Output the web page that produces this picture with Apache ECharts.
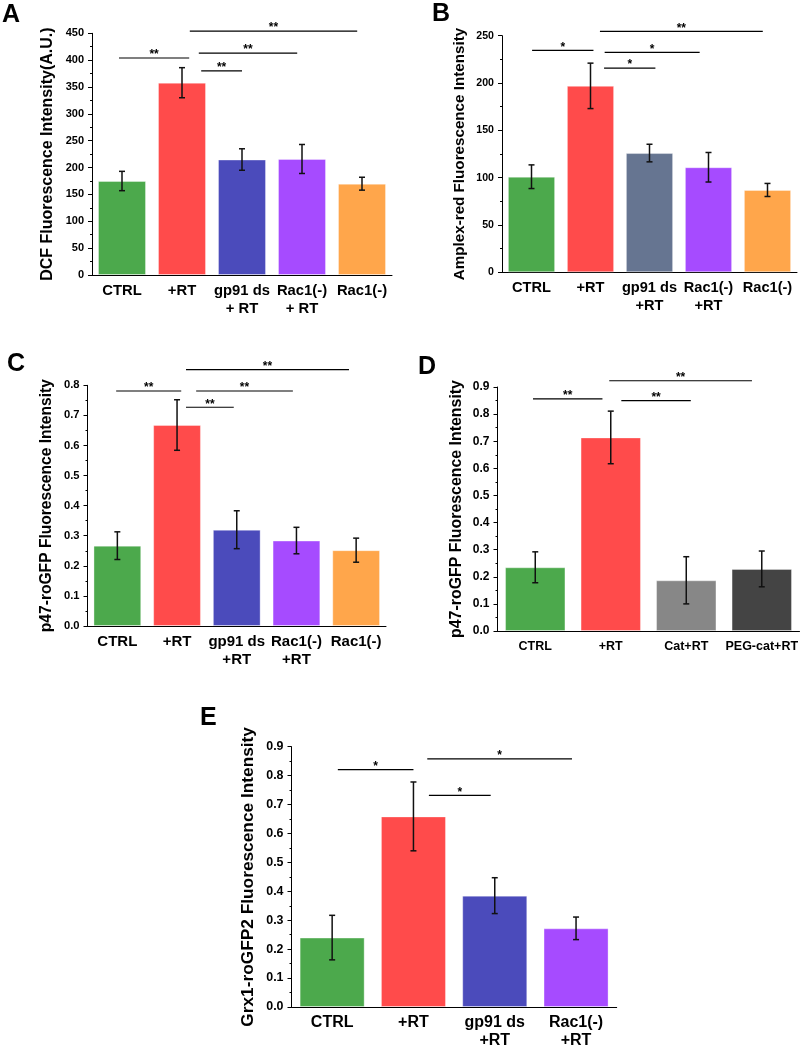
<!DOCTYPE html>
<html>
<head>
<meta charset="utf-8">
<script src="https://cdn.jsdelivr.net/npm/echarts@6/dist/echarts.min.js"></script>
<style>html,body{margin:0;padding:0;background:#fff}#c{width:801px;height:1050px}</style>
</head>
<body>
<div id="c"></div>
<script>
// ---------- DATA ----------
const catsA = ['CTRL', '+RT', 'gp91 ds\n+ RT', 'Rac1(-)\n+ RT', 'Rac1(-)'];
const valsA = [175, 358, 215, 216, 170];
const errA  = [18, 28, 20, 27, 12];
const sigA  = [[-0.05, 1.12, 404, '**'], [1.13, 3.92, 454, '**'], [1.28, 2.92, 413, '**'], [1.32, 2.0, 380, '**']];

const catsB = ['CTRL', '+RT', 'gp91 ds\n+RT', 'Rac1(-)\n+RT', 'Rac1(-)'];
const valsB = [101, 197, 126, 111, 87];
const errB  = [12.5, 24, 9.3, 15.6, 6.9];
const sigB  = [[0.01, 1.05, 234.5, '*'], [1.16, 3.92, 254.6, '**'], [1.24, 2.85, 232.4, '*'], [1.23, 2.1, 215.8, '*']];

const catsC = ['CTRL', '+RT', 'gp91 ds\n+RT', 'Rac1(-)\n+RT', 'Rac1(-)'];
const valsC = [0.267, 0.668, 0.320, 0.284, 0.252];
const errC  = [0.046, 0.084, 0.063, 0.044, 0.040];
const sigC  = [[-0.02, 1.07, 0.781, '**'], [1.15, 3.88, 0.852, '**'], [1.32, 2.94, 0.781, '**'], [1.15, 1.95, 0.727, '**']];

const catsD = ['CTRL', '+RT', 'Cat+RT', 'PEG-cat+RT'];
const valsD = [0.235, 0.714, 0.187, 0.229];
const errD  = [0.057, 0.097, 0.087, 0.066];
const sigD  = [[-0.03, 0.89, 0.856, '**'], [0.98, 2.87, 0.923, '**'], [1.14, 2.06, 0.850, '**']];

const catsE = ['CTRL', '+RT', 'gp91 ds\n+RT', 'Rac1(-)\n+RT'];
const valsE = [0.240, 0.659, 0.385, 0.272];
const errE  = [0.077, 0.119, 0.062, 0.039];
const sigE  = [[0.07, 1.0, 0.821, '*'], [1.17, 2.95, 0.858, '*'], [1.19, 1.95, 0.732, '*']];

const yTitles = ['DCF Fluorescence Intensity(A.U.)', 'Amplex-red Fluorescence Intensity',
  'p47-roGFP Fluorescence Intensity', 'p47-roGFP Fluorescence Intensity',
  'Grx1-roGFP2 Fluorescence Intensity'];
const yMax = [450, 250, 0.8, 0.9, 0.9];
const yStep = [50, 50, 0.1, 0.1, 0.1];
const letters = ['A', 'B', 'C', 'D', 'E'];

// ---------- STYLE ----------
const GREEN = '#4CA94C', RED = '#FF4B4B', BLUE = '#4B4BBB', PURPLE = '#A64BFF', ORANGE = '#FFA64B',
      SLATE = '#667591', GRAY = '#878787', DARK = '#444444';
const colors = [
  [GREEN, RED, BLUE, PURPLE, ORANGE],
  [GREEN, RED, SLATE, PURPLE, ORANGE],
  [GREEN, RED, BLUE, PURPLE, ORANGE],
  [GREEN, RED, GRAY, DARK],
  [GREEN, RED, BLUE, PURPLE]
];
const FONT = '"Liberation Sans", Arial, Helvetica, sans-serif';
const grids = [
  {left: 92, top: 33.3, width: 300, height: 241.7},
  {left: 502, top: 35.7, width: 295, height: 236.6},
  {left: 87.5, top: 385.3, width: 298.5, height: 240.7},
  {left: 497.5, top: 387, width: 302.5, height: 244},
  {left: 291.5, top: 746.7, width: 325.2, height: 262.6}
];
const nameGaps = [36, 34.5, 32.5, 32.5, 35];
const nameSizes = [16, 15.2, 15.6, 15.9, 17.3];
const xLabelSizes = [14.8, 14.6, 15, 12.5, 16];
const yLabelSizes = [11, 10.6, 11.2, 12, 12.4];
const letterPos = [[2, 3], [432, 2], [7, 352], [418, 355], [200, 706]];

const panels = [
  {cats: catsA, vals: valsA, err: errA, sig: sigA},
  {cats: catsB, vals: valsB, err: errB, sig: sigB},
  {cats: catsC, vals: valsC, err: errC, sig: sigC},
  {cats: catsD, vals: valsD, err: errD, sig: sigD},
  {cats: catsE, vals: valsE, err: errE, sig: sigE}
];

const xAxes = [], yAxes = [], series = [], titles = [];
panels.forEach((p, i) => {
  xAxes.push({
    type: 'category', gridIndex: i, data: p.cats,
    axisLine: {onZero: false, lineStyle: {color: '#000', width: 1}},
    axisTick: {alignWithLabel: true, length: 4, lineStyle: {color: '#000'}},
    axisLabel: {interval: 0, color: '#000', fontFamily: FONT, fontWeight: 'bold',
      fontSize: xLabelSizes[i], lineHeight: 18, margin: 7}
  });
  yAxes.push({
    type: 'value', gridIndex: i, min: 0, max: yMax[i], interval: yStep[i],
    name: yTitles[i], nameLocation: 'middle', nameRotate: 90, nameGap: nameGaps[i],
    nameTextStyle: {color: '#000', fontFamily: FONT, fontWeight: 'bold', fontSize: nameSizes[i]},
    axisLine: {show: true, onZero: false, lineStyle: {color: '#000', width: 1}},
    axisTick: {show: true, length: 4, lineStyle: {color: '#000'}},
    minorTick: {show: true, splitNumber: 2, length: 2, lineStyle: {color: '#000'}},
    splitLine: {show: false},
    axisLabel: {color: '#000', fontFamily: FONT, fontWeight: 'bold', fontSize: yLabelSizes[i], margin: 8,
      formatter: v => yStep[i] < 1 ? v.toFixed(1) : String(v)}
  });
  titles.push({text: letters[i], left: letterPos[i][0], top: letterPos[i][1], padding: 0,
    textStyle: {fontFamily: FONT, fontWeight: 'bold', fontSize: 25, color: '#000'}});
});
// hidden value x-axes for significance brackets
panels.forEach((p, i) => {
  xAxes.push({type: 'value', gridIndex: i, show: false, min: -0.5, max: p.cats.length - 0.5,
    axisLine: {onZero: false}});
});

panels.forEach((p, i) => {
  series.push({
    type: 'bar', xAxisIndex: i, yAxisIndex: i, barWidth: '80%', z: 2,
    data: p.vals.map((v, k) => ({value: v, itemStyle: {color: colors[i][k],
      borderColor: 'rgba(255,255,255,0.35)', borderWidth: 1}})),
    silent: true, animation: false
  });
  series.push({
    type: 'custom', xAxisIndex: i, yAxisIndex: i, animation: false, silent: true, z: 10,
    data: p.vals.map((v, k) => [k, v, p.err[k]]),
    encode: {x: 0, y: 1},
    renderItem: (params, api) => {
      const k = api.value(0), v = api.value(1), e = api.value(2);
      const top = api.coord([k, v + e]), bot = api.coord([k, v - e]);
      const cw = 3, st = {stroke: '#111', lineWidth: 1.5};
      return {type: 'group', children: [
        {type: 'line', shape: {x1: top[0], y1: top[1], x2: bot[0], y2: bot[1]}, style: st},
        {type: 'line', shape: {x1: top[0] - cw, y1: top[1], x2: top[0] + cw, y2: top[1]}, style: st},
        {type: 'line', shape: {x1: bot[0] - cw, y1: bot[1], x2: bot[0] + cw, y2: bot[1]}, style: st}
      ]};
    }
  });
  series.push({
    type: 'custom', xAxisIndex: 5 + i, yAxisIndex: i, animation: false, silent: true, clip: false, z: 10,
    data: p.sig.map(s => [s[0], s[1], s[2], s[3]]),
    dimensions: ['x1', 'x2', 'y', {name: 'lab', type: 'ordinal'}],
    encode: {x: [0, 1], y: 2},
    renderItem: (params, api) => {
      const s = p.sig[params.dataIndex];
      const a = api.coord([s[0], s[2]]), b = api.coord([s[1], s[2]]);
      return {type: 'group', children: [
        {type: 'line', shape: {x1: a[0], y1: a[1], x2: b[0], y2: b[1]}, style: {stroke: '#000', lineWidth: 1.2}},
        {type: 'text', style: {text: s[3], x: (a[0] + b[0]) / 2, y: a[1] - 3, align: 'center',
          verticalAlign: 'middle', fontFamily: FONT, fontWeight: 'bold', fontSize: 12, fill: '#000'}}
      ]};
    }
  });
});

const chart = echarts.init(document.getElementById('c'), null, {renderer: 'canvas'});
chart.setOption({
  backgroundColor: '#fff',
  animation: false,
  title: titles,
  grid: grids,
  xAxis: xAxes,
  yAxis: yAxes,
  series: series
});
</script>
</body>
</html>
